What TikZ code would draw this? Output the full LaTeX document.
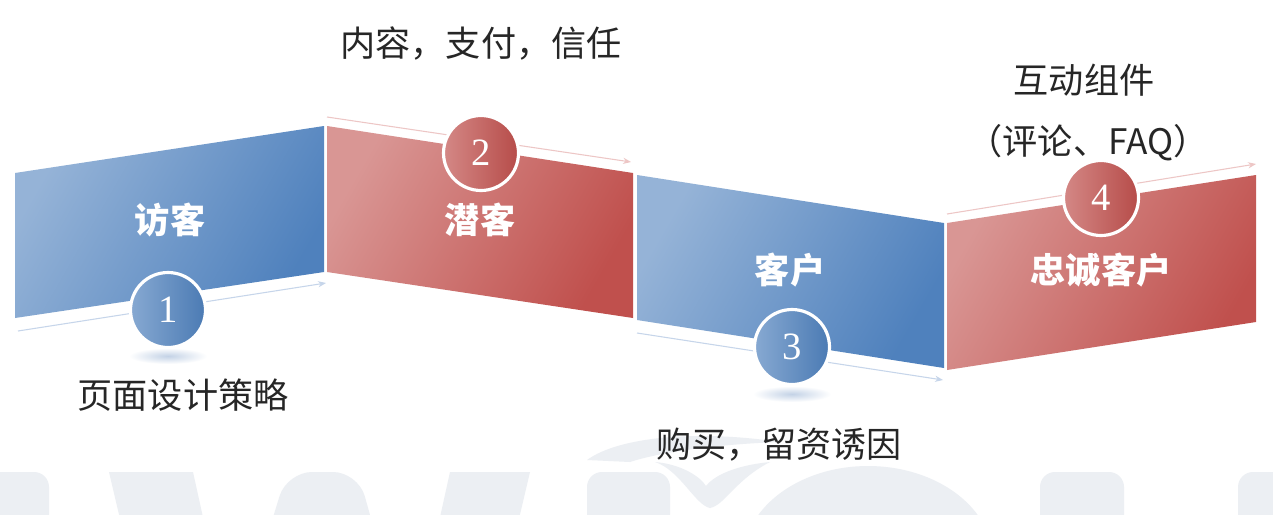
\documentclass[tikz,border=0pt]{standalone}
\usepackage{fontspec}
\setmainfont{Noto Sans CJK SC}
\newfontfamily\numfont{Liberation Serif}
\usepackage{tikz}
\usetikzlibrary{arrows.meta}

\definecolor{bluelight}{HTML}{95B3D7}
\definecolor{bluedark}{HTML}{4F81BD}
\definecolor{redlight}{HTML}{D99694}
\definecolor{reddark}{HTML}{C0504D}
\definecolor{bluethin}{HTML}{C6D5EA}
\definecolor{redthin}{HTML}{EDC6C5}
\definecolor{bluehalo}{HTML}{C3D2E6}
\definecolor{wmark}{HTML}{ECEFF3}
\definecolor{textgray}{HTML}{262626}

\begin{document}
\begin{tikzpicture}[x=0.02cm, y=-0.02cm]

    % Styles
    \tikzset{
        bluepanel/.style={left color=bluelight, right color=bluedark, shading angle=60},
        redpanel/.style={left color=redlight, right color=reddark, shading angle=60},
        numcircle/.style={circle, draw=white, line width=1.8pt, minimum size=1.5cm, inner sep=0pt,
            text=white, font=\numfont\fontsize{22}{22}\selectfont, shading angle=40},
        bluecircle/.style={numcircle, left color=bluelight!80!bluedark, middle color=bluedark, right color=bluedark!95!black},
        redcircle/.style={numcircle, left color=redlight!80!reddark, middle color=reddark, right color=reddark!95!black},
        panellabel/.style={text=white, font=\bfseries\fontsize{20}{20}\selectfont},
        note/.style={text=textgray, font=\fontsize{20}{24}\selectfont},
        thinarrow/.style={-{Stealth[length=4.5pt, width=3.5pt]}, line width=0.6pt},
        halo/.style={inner color=bluehalo, outer color=white},
        wm/.style={fill=wmark}
    }

    \fill[white] (0,0) rectangle (1273,514);
    \useasboundingbox (0,0) rectangle (1273,514);

    % Watermark
    \fill[wm, rounded corners=0.3cm] (-20,540) -- (-20,472) -- (49,472) -- (49,540) -- cycle;
    \fill[wm] (109,472) -- (193,472) -- (208,540) -- (125,540) -- cycle;
    \fill[wm, rounded corners=0.5cm] (266,540) -- (287,472) -- (358,472) -- (377,540) -- cycle;
    \fill[wm] (450,472) -- (530,472) -- (514,540) -- (435,540) -- cycle;
    \fill[wm, rounded corners=0.3cm] (587,540) -- (587,472) -- (670,472) -- (670,540) -- cycle;
    \fill[wm] (587,460) .. controls (620,436) and (700,430) .. (780,442)
        .. controls (720,444) and (660,452) .. (630,462) -- cycle;
    \fill[wm] (655,462) .. controls (680,470) and (695,505) .. (710,508)
        .. controls (725,505) and (735,480) .. (770,462)
        .. controls (730,466) and (712,478) .. (706,486)
        .. controls (700,476) and (680,464) .. (655,462) -- cycle;
    \fill[wm] (868,560) ellipse [x radius=2.5cm, y radius=1.88cm];
    \fill[wm, rounded corners=0.3cm] (1040,540) -- (1040,472) -- (1124,472) -- (1124,540) -- cycle;
    \fill[wm, rounded corners=0.3cm] (1238,540) -- (1238,472) -- (1300,472) -- (1300,540) -- cycle;

    % Shadows under the circles
    \shade[halo] (168,356) ellipse [x radius=0.78cm, y radius=0.16cm];
    \shade[halo] (792,394) ellipse [x radius=0.78cm, y radius=0.16cm];

    % Panels
    \shade[bluepanel] (15,173) -- (324,126) -- (324,272) -- (15,318) -- cycle;
    \shade[redpanel] (327,126) -- (633,173) -- (633,318) -- (327,272) -- cycle;
    \shade[bluepanel] (637,175) -- (944,223) -- (944,368) -- (637,320) -- cycle;
    \shade[redpanel] (947,223) -- (1256,175) -- (1256,322) -- (947,370) -- cycle;

    % Thin arrows along the panels
    \coordinate (a1s) at (18,331);   \coordinate (a1e) at (326,283);
    \coordinate (a2s) at (327,117);  \coordinate (a2e) at (631,162);
    \coordinate (a3s) at (637,333);  \coordinate (a3e) at (943,380);
    \coordinate (a4s) at (947,214);  \coordinate (a4e) at (1256,164);
    \draw[thinarrow, bluethin] (a1s) -- (a1e);
    \draw[thinarrow, redthin] (a2s) -- (a2e);
    \draw[thinarrow, bluethin] (a3s) -- (a3e);
    \draw[thinarrow, redthin] (a4s) -- (a4e);

    % Panel labels
    \node[panellabel] (visitor) at (170,220) {访客};
    \node[panellabel] (lead) at (480,220) {潜客};
    \node[panellabel] (customer) at (790,270) {客户};
    \node[panellabel] (loyal) at (1101,270) {忠诚客户};

    % Step circles
    \node[bluecircle] (c1) at (168,310) {1};
    \node[redcircle] (c2) at (481,153) {2};
    \node[bluecircle] (c3) at (792,347) {3};
    \node[redcircle] (c4) at (1101,198) {4};

    % Notes
    \node[note] (n1) at (183,395) {页面设计策略};
    \node[note] (n2) at (481,43) {内容，支付，信任};
    \node[note] (n3) at (779,445) {购买，留资诱因};
    \node[note] (n4a) at (1084,80) {互动组件};
    \node[note] (n4b) at (1088,143) {（评论、FAQ）};

\end{tikzpicture}
\end{document}
